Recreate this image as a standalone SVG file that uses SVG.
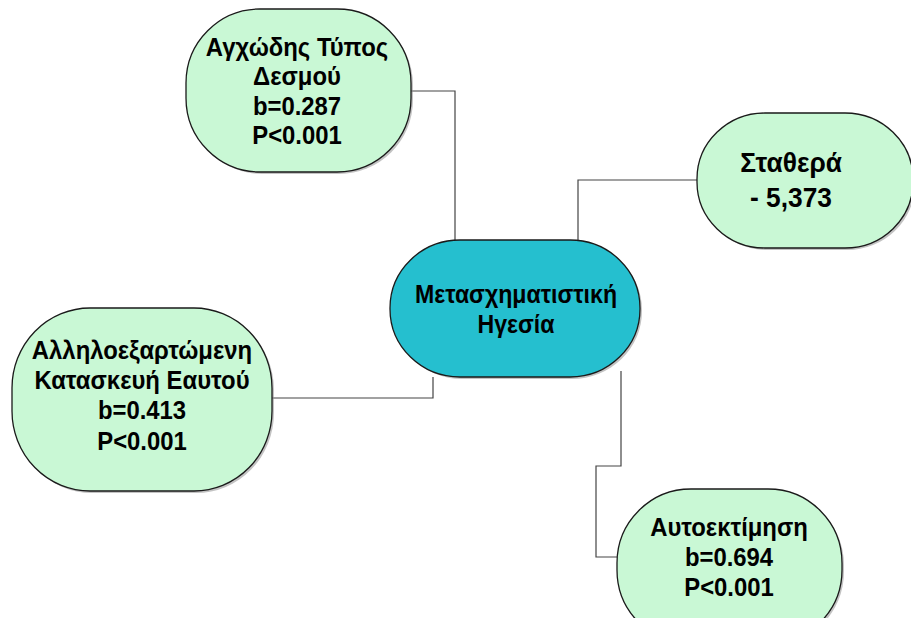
<svg xmlns="http://www.w3.org/2000/svg" width="911" height="618" viewBox="0 0 911 618">
<style>
.node{fill:#C9F8D5;stroke:#1a1a1a;stroke-width:1.3}
.center{fill:#25BFCF;stroke:#1a1a1a;stroke-width:1.3}
.sh{fill:#888;opacity:0.5}
.t{font-family:"Liberation Sans",Arial,sans-serif;font-weight:bold;font-size:25px;fill:#000;text-anchor:middle}
.conn{fill:none;stroke:#444;stroke-width:1.2}
</style>
<rect width="911" height="618" fill="#fff"/>
<g id="connectors">
<polyline class="conn" points="411,91 455,91 455,241"/>
<polyline class="conn" points="697,180 578,180 578,241"/>
<polyline class="conn" points="272,398 433,398 433,377"/>
<polyline class="conn" points="621,371 621,466 596,466 596,557 617,557"/>
</g>
<g id="node-anxious">
<rect class="sh" x="188" y="11" width="225" height="163" rx="74" ry="74"/>
<rect class="node" x="186" y="9" width="225" height="163" rx="74" ry="74"/>
<text class="t" transform="translate(297,0) scale(0.955,1)"><tspan x="0" y="56">Αγχώδης Τύπος</tspan><tspan x="0" y="85.5">Δεσμού</tspan><tspan x="0" y="115">b=0.287</tspan><tspan x="0" y="144.5">P&lt;0.001</tspan></text>
</g>
<g id="node-constant">
<rect class="sh" x="699" y="115" width="216" height="135" rx="68" ry="66"/>
<rect class="node" x="697" y="113" width="216" height="135" rx="68" ry="66"/>
<text class="t" style="font-size:27px" transform="translate(791,0) scale(0.975,1)"><tspan x="0" y="172">Σταθερά</tspan><tspan x="0" y="207">- 5,373</tspan></text>
</g>
<g id="node-center">
<rect class="sh" x="392" y="242" width="250" height="137" rx="70" ry="68"/>
<rect class="center" x="390" y="240" width="250" height="137" rx="70" ry="68"/>
<text class="t" transform="translate(516,0) scale(0.925,1)"><tspan x="0" y="303">Μετασχηματιστική</tspan><tspan x="0" y="333">Ηγεσία</tspan></text>
</g>
<g id="node-interdependent">
<rect class="sh" x="14" y="310" width="260" height="183" rx="78" ry="80"/>
<rect class="node" x="12" y="308" width="260" height="183" rx="78" ry="80"/>
<text class="t" transform="translate(142,0) scale(0.955,1)"><tspan x="0" y="359">Αλληλοεξαρτώμενη</tspan><tspan x="0" y="389">Κατασκευή Εαυτού</tspan><tspan x="0" y="419.5">b=0.413</tspan><tspan x="0" y="450">P&lt;0.001</tspan></text>
</g>
<g id="node-selfesteem">
<rect class="sh" x="619" y="491" width="225" height="155" rx="74" ry="74"/>
<rect class="node" x="617" y="489" width="225" height="155" rx="74" ry="74"/>
<text class="t" transform="translate(729,0) scale(0.955,1)"><tspan x="0" y="536">Αυτοεκτίμηση</tspan><tspan x="0" y="566">b=0.694</tspan><tspan x="0" y="596">P&lt;0.001</tspan></text>
</g>
</svg>
